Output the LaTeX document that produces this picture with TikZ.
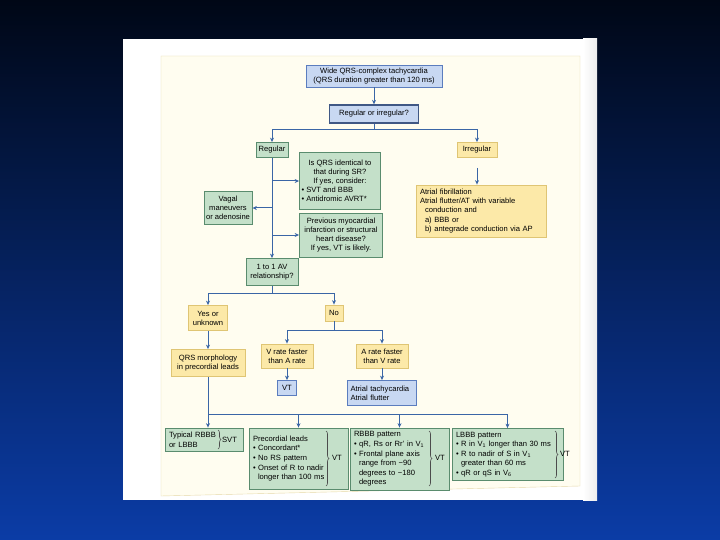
\documentclass[tikz,border=0pt]{standalone}
\usepackage{fontspec}
\setmainfont{Liberation Sans}
\usepackage{tikz}
\usetikzlibrary{
    arrows.meta,
    decorations.pathreplacing
}

\definecolor{bgtop}{HTML}{000716}
\definecolor{bgmid}{HTML}{062B7E}
\definecolor{bgbot}{HTML}{0B3CA6}
\definecolor{paper}{HTML}{FFFDF0}
\definecolor{paperline}{HTML}{E6D9A8}
\definecolor{bluefill}{HTML}{C8D8F2}
\definecolor{blueline}{HTML}{5B7DBE}
\definecolor{greenfill}{HTML}{C4E0C9}
\definecolor{greenline}{HTML}{5A8C6E}
\definecolor{yellowfill}{HTML}{FCE9A8}
\definecolor{yellowline}{HTML}{DFC574}
\definecolor{arrowblue}{HTML}{3A66A6}

\begin{document}
\begin{tikzpicture}[x=1pt,y=-1pt,
    every node/.style={font=\fontsize{7.6}{9.1}\selectfont, inner sep=2pt},
    bluebox/.style={draw=blueline, fill=bluefill, line width=0.8pt, align=center},
    greenbox/.style={draw=greenline, fill=greenfill, line width=0.8pt, align=center},
    yellowbox/.style={draw=yellowline, fill=yellowfill, line width=0.8pt, align=center},
    lowbox/.style={greenbox, align=left, inner xsep=4pt, inner ysep=1pt,
        font=\fontsize{7.6}{9.6}\selectfont},
    flow/.style={draw=arrowblue, line width=1pt},
    arr/.style={flow, -{Stealth[length=4.5pt,width=4pt]}},
    bracket/.style={decorate, decoration={brace, amplitude=3pt}, line width=0.6pt, draw=black!70}
]
\useasboundingbox (0,0) rectangle (720,540);

% Background
\shade[top color=bgtop, middle color=bgmid, bottom color=bgbot] (0,0) rectangle (720,540);

% Page
\fill[white] (123,39) rectangle (597,500);
\shade[left color=white, right color=black!7] (583,39) rectangle (597,500);
\draw[paperline, fill=paper] (161,56) -- (580,56) -- (580,486) -- (161,496) -- cycle;

% Top
\node[bluebox, minimum width=136, minimum height=22] (wide) at (374,76)
    {Wide QRS-complex tachycardia\\(QRS duration greater than 120 ms)};
\node[bluebox, draw=blueline!70!black, line width=1.3pt, minimum width=89, minimum height=18]
    (rori) at (374,114) {Regular or irregular?};
\node[greenbox, minimum width=32, minimum height=15] (regular) at (272,150) {Regular};
\node[yellowbox, minimum width=40, minimum height=15] (irregular) at (477,150) {Irregular};

% Regular branch
\node[greenbox, minimum width=81, minimum height=57] (identical) at (340,181)
    {\begin{minipage}{77pt}\centering Is QRS identical to\\that during SR?\\If yes, consider:\par
     \raggedright\textbullet\ SVT and BBB\\\textbullet\ Antidromic AVRT*\end{minipage}};
\node[greenbox, minimum width=48, minimum height=33] (vagal) at (228,208)
    {Vagal\\maneuvers\\or adenosine};
\node[greenbox, minimum width=83, minimum height=44] (previous) at (341,235)
    {Previous myocardial\\infarction or structural\\heart disease?\\If yes, VT is likely.};
\node[greenbox, minimum width=52, minimum height=27] (onetoone) at (272,272)
    {1 to 1 AV\\relationship?};

% Irregular branch
\node[yellowbox, align=left, text width=122, inner xsep=4pt, minimum height=52] (afib) at (481,211)
    {Atrial fibrillation\\Atrial flutter/AT with variable\\\hspace*{5pt}conduction and\\
     \hspace*{5pt}a) BBB or\\\hspace*{5pt}b) antegrade conduction via AP};

% AV relationship
\node[yellowbox, minimum width=39, minimum height=25] (yes) at (208,318) {Yes or\\unknown};
\node[yellowbox, minimum width=18, minimum height=16] (no) at (334,313) {No};
\node[yellowbox, minimum width=74, minimum height=27] (qrsmorph) at (208,363)
    {QRS morphology\\in precordial leads};
\node[yellowbox, minimum width=52, minimum height=24] (vrate) at (287,356)
    {V rate faster\\than A rate};
\node[yellowbox, minimum width=52, minimum height=24] (arate) at (382,356)
    {A rate faster\\than V rate};
\node[bluebox, minimum width=19, minimum height=15] (vt) at (287,388) {VT};
\node[bluebox, align=left, text width=63, inner xsep=3pt, minimum height=25] (atach) at (382,393)
    {Atrial tachycardia\\Atrial flutter};

% Bottom row
\node[lowbox, text width=70, minimum height=23] (typical) at (204,439.5)
    {Typical RBBB\\or LBBB};
\node[lowbox, text width=91, minimum height=61] (precordial) at (298.5,458.5)
    {Precordial leads\\\textbullet\ Concordant*\\\textbullet\ No RS pattern\\
     \textbullet\ Onset of R to nadir\\\hspace*{5pt}longer than 100 ms};
\node[lowbox, text width=91, minimum height=62] (rbbb) at (399.5,459)
    {RBBB pattern\\\textbullet\ qR, Rs or Rr' in V\textsubscript{1}\\\textbullet\ Frontal plane axis\\
     \hspace*{5pt}range from −90\\\hspace*{5pt}degrees to −180\\\hspace*{5pt}degrees};
\node[lowbox, text width=103, minimum height=52] (lbbb) at (507.5,454.5)
    {LBBB pattern\\\textbullet\ R in V\textsubscript{1} longer than 30 ms\\
     \textbullet\ R to nadir of S in V\textsubscript{1}\\\hspace*{5pt}greater than 60 ms\\
     \textbullet\ qR or qS in V\textsubscript{6}};

% Braces
\draw[bracket] (218,430) -- (218,449);
\node (svt) at (229.5,440) {SVT};
\draw[bracket] (326,431) -- (326,486);
\node (vt1) at (337,458) {VT};
\draw[bracket] (429,431) -- (429,486);
\node (vt2) at (440,458) {VT};
\draw[bracket] (555,431) -- (555,478);
\node (vt3) at (565,454) {VT};

% Connectors
\coordinate (split1) at (374,130);
\draw[arr] (wide) -- (rori);
\draw[flow] (rori) -- (split1);
\draw[arr] (split1) -| (regular);
\draw[arr] (split1) -| (irregular);
\draw[arr, shorten <=10pt] (irregular) -- (irregular |- afib.north);

\draw[arr] (regular) -- (onetoone);
\draw[arr] (regular |- identical) -- (identical);
\draw[arr] (regular |- vagal) -- (vagal);
\draw[arr] (regular |- previous) -- (previous);

\coordinate (split2) at (272,293);
\draw[flow] (onetoone) -- (split2);
\draw[arr] (split2) -| (yes);
\draw[arr] (split2) -| (no);
\draw[arr] (yes) -- (qrsmorph);

\coordinate (split3) at (334,330);
\draw[flow] (no) -- (split3);
\draw[arr] (split3) -| (vrate);
\draw[arr] (split3) -| (arate);
\draw[arr] (vrate) -- (vt);
\draw[arr] (arate) -- (atach);

\coordinate (split4) at (208,414);
\draw[flow] (qrsmorph) -- (split4);
\draw[arr] (split4) -- (split4 |- typical.north);
\draw[arr] (split4) -| (lbbb);
\draw[arr] (split4 -| precordial) -- (precordial);
\draw[arr] (split4 -| rbbb) -- (rbbb);

\end{tikzpicture}
\end{document}
